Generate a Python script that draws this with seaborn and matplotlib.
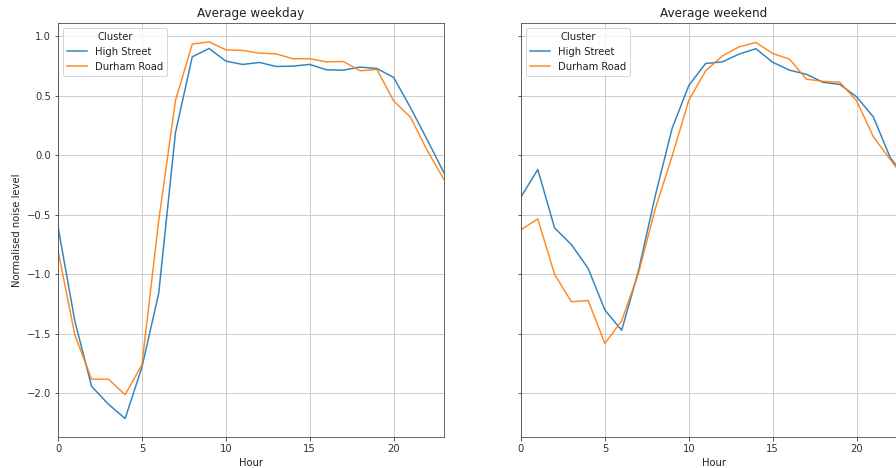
import numpy as np
import pandas as pd
import matplotlib
matplotlib.use("Agg")
import matplotlib.pyplot as plt
import seaborn as sns

hours = list(range(24))
clusters = ["High Street", "Durham Road"]

weekday_high_street = [-0.60, -1.39, -1.94, -2.09, -2.21, -1.78, -1.16, 0.19,
                       0.826, 0.896, 0.79, 0.762, 0.779, 0.745, 0.748, 0.762,
                       0.717, 0.714, 0.74, 0.728, 0.653, 0.40, 0.13, -0.149]
weekday_durham_road = [-0.80, -1.507, -1.88, -1.88, -2.01, -1.76, -0.55, 0.46,
                       0.933, 0.952, 0.885, 0.88, 0.857, 0.851, 0.81, 0.81,
                       0.784, 0.787, 0.709, 0.72, 0.456, 0.32, 0.04, -0.205]

weekend_high_street = [-0.35, -0.12, -0.61, -0.75, -0.95, -1.30, -1.47, -0.97,
                       -0.34, 0.224, 0.586, 0.77, 0.784, 0.849, 0.894, 0.78,
                       0.714, 0.68, 0.612, 0.594, 0.49, 0.32, -0.02, -0.20]
weekend_durham_road = [-0.625, -0.535, -1.0, -1.23, -1.22, -1.58, -1.39, -0.99,
                       -0.45, -0.01, 0.462, 0.709, 0.834, 0.91, 0.947, 0.854,
                       0.807, 0.639, 0.62, 0.613, 0.456, 0.154, -0.035, -0.225]

def frame(hs, dr):
    return pd.DataFrame({
        "Hour": hours + hours,
        "Normalised noise level": hs + dr,
        "Cluster": [clusters[0]] * 24 + [clusters[1]] * 24,
    })

df_weekday = frame(weekday_high_street, weekday_durham_road)
df_weekend = frame(weekend_high_street, weekend_durham_road)

plt.rcParams["font.family"] = ["DejaVu Sans"]
plt.rcParams["font.size"] = 10
plt.rcParams["text.color"] = "#222222"
plt.rcParams["axes.labelcolor"] = "#222222"
plt.rcParams["xtick.color"] = "#333333"
plt.rcParams["ytick.color"] = "#333333"

fig = plt.figure(figsize=(896 / 72, 468 / 72), dpi=72)
W, H = 896.0, 468.0
ax1 = fig.add_axes([58 / W, (H - 437.3) / H, 386 / W, 414.3 / H])
ax2 = fig.add_axes([521 / W, (H - 437.3) / H, 386 / W, 414.3 / H], sharey=ax1)

palette = ["#1f77b4", "#ff7f0e"]
for ax, df, title in [(ax1, df_weekday, "Average weekday"),
                      (ax2, df_weekend, "Average weekend")]:
    sns.lineplot(data=df, x="Hour", y="Normalised noise level", hue="Cluster",
                 hue_order=clusters, palette=palette, ax=ax, linewidth=1.5,
                 alpha=0.9)
    ax.set_xlim(0, 23)
    ax.set_xticks([0, 5, 10, 15, 20])
    ax.grid(True, color="#c8c8c8", linewidth=0.9)
    ax.set_axisbelow(True)
    ax.set_title(title, fontsize=12)
    ax.set_xlabel("Hour")
    for s in ax.spines.values():
        s.set_color("#444444")
    leg = ax.legend(title="Cluster", loc="upper left", fontsize=10,
                    title_fontsize=10)

ax1.set_ylabel("Normalised noise level", labelpad=5)
ax2.set_ylabel("")
ax2.tick_params(labelleft=False)
ax1.set_yticks([-2.0, -1.5, -1.0, -0.5, 0.0, 0.5, 1.0])
ax1.set_ylim(-2.368, 1.11)

fig.savefig("out.png", dpi=72)
